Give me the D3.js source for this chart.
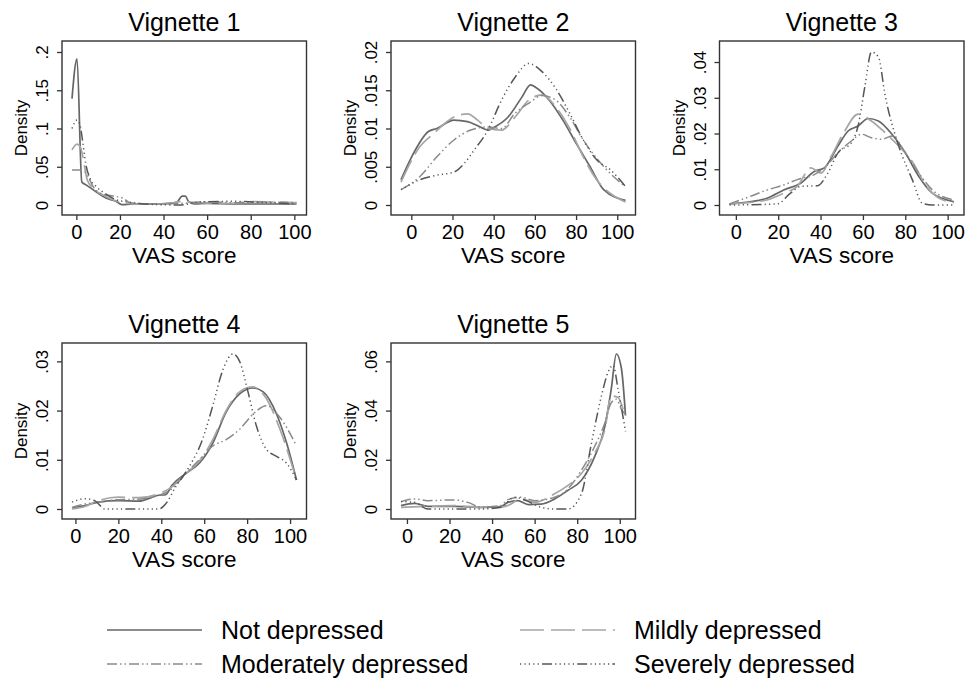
<!DOCTYPE html>
<html>
<head>
<meta charset="utf-8">
<script src="https://cdn.jsdelivr.net/npm/d3@7"></script>
<style>
	body { margin: 0; background: #fff; }
	text { font-family: "Liberation Sans", Arial, Helvetica, sans-serif; fill: #000; }
</style>
</head>
<body>
<div id="chart"></div>
<script>
var w = 974;
var h = 678;

// group names (legend order)
var groups = ["Not depressed", "Mildly depressed", "Moderately depressed", "Severely depressed"];
var panelTitles = ["Vignette 1", "Vignette 2", "Vignette 3", "Vignette 4", "Vignette 5"];
var xTicks = [0, 20, 40, 60, 80, 100];

// y ticks per vignette
var yTicks1 = [0, .05, .1, .15, .2];
var yTicks2 = [0, .005, .01, .015, .02];
var yTicks3 = [0, .01, .02, .03, .04];
var yTicks4 = [0, .01, .02, .03];
var yTicks5 = [0, .02, .04, .06];

// density curves [VAS score, density]
var v1Not = [[-2,.139],[0.3,.191],[2.5,.030],[4.6,.026],[9.2,.017],[13.8,.0087],[18.5,.0043],[20.8,.0005],[26,.0013],[38,.0013],[41.5,.002],[46,.0035],[48.5,.0115],[50,.0117],[51.5,.0043],[54,.0013],[60,.002],[72,.0013],[88,.0013],[101,.0013]];
var v1Mild = [[-2,.072],[0.3,.0796],[1.8,.076],[3,.063],[5,.0326],[7.7,.0217],[12.3,.013],[17,.0065],[21.5,.003],[29,.0013],[41.5,.0013],[47.7,.0043],[57,.003],[69,.002],[81.5,.0043],[101,.003]];
var v1Mod = [[-2,.0457],[1.5,.0457],[3.8,.0435],[5.4,.037],[7.7,.024],[12.3,.0139],[17,.0117],[21.5,.0087],[24.6,.003],[34,.0013],[47.7,.002],[60,.0043],[72.3,.003],[84.6,.0039],[101,.003]];
var v1Sev = [[-2,.1],[0.3,.111],[1.8,.103],[2.8,.085],[4.3,.054],[6.2,.035],[9.2,.024],[13.8,.0139],[18.5,.0065],[23,.0043],[29,.002],[38.5,.0004],[47,0],[57,.0039],[72,.0048],[88,.003],[101,.0013]];

var v2Not = [[-5,.0033],[0,.0062],[8.3,.0096],[12.4,.0100],[20.7,.0111],[27.3,.0109],[32,.0104],[37.2,.0098],[40.5,.0102],[47,.0115],[53.7,.0141],[57.9,.0157],[60.3,.0154],[67,.0137],[73.6,.0111],[80.2,.008],[86.8,.005],[93.4,.002],[104,.0006]];
var v2Mild = [[-5,.003],[4.1,.0076],[10.7,.0093],[20.7,.0115],[27.3,.0119],[32.2,.0111],[37.2,.0100],[43.8,.0098],[50.4,.0115],[57,.0137],[63.6,.0144],[70.2,.0128],[76.9,.0100],[83.5,.0063],[90,.0033],[96.7,.0015],[104,.0004]];
var v2Mod = [[-5,.002],[4.1,.0037],[12.4,.0063],[20.7,.0085],[28.9,.0098],[37.2,.0102],[43.8,.0100],[50.4,.012],[57,.0133],[63.6,.0143],[70.2,.0137],[76.9,.0115],[83.5,.0085],[90,.0061],[96.7,.0041],[104,.0024]];
var v2Sev = [[-5,.002],[4.1,.0033],[12.4,.0039],[20.7,.0043],[25.6,.0054],[30.6,.0072],[37.2,.0098],[43.8,.0137],[50.4,.0167],[57,.0185],[63.6,.0174],[70.2,.0152],[76.9,.012],[83.5,.0085],[90,.0059],[96.7,.0046],[104,.0024]];

var v3Not = [[-3,.0003],[6.7,.0009],[14.7,.0019],[22.6,.0042],[30.6,.0061],[37,.0094],[41.8,.0104],[48.2,.0165],[53,.0207],[57.7,.0221],[62.5,.0242],[67.3,.0235],[73.7,.0198],[80,.0146],[86.4,.008],[92.8,.0033],[103,.0009]];
var v3Mild = [[-3,.0003],[6.7,.0007],[14.7,.0014],[22.6,.0033],[29,.0052],[35.4,.0104],[40.2,.0089],[45,.0136],[51.4,.0207],[57.7,.0254],[64,.0235],[70.5,.0202],[76.9,.0165],[83.3,.0122],[89.6,.0056],[96,.0019],[103,.0007]];
var v3Mod = [[-3,.0003],[6.7,.0024],[14.7,.0042],[22.6,.0056],[29,.0071],[37,.0085],[41.8,.0104],[48.2,.0146],[54.5,.0179],[59.3,.0198],[64,.0188],[68.9,.0184],[73.7,.0193],[80,.0146],[86.4,.0089],[92.8,.0042],[103,.0014]];
var v3Sev = [[-3,0],[19.5,.0003],[25.8,.0033],[30.6,.0052],[38.6,.0054],[43.4,.0089],[48.2,.0146],[54.5,.0174],[57.7,.0221],[61,.0334],[64,.0428],[67.3,.0414],[70.5,.0306],[76.9,.0165],[83.3,.0071],[88,.0005],[92.8,0],[103,0]];

var v4Not = [[-1.6,.0002],[4.4,.0007],[10.7,.0014],[20,.0017],[29.5,.0016],[38.9,.0028],[42,.0029],[45,.0048],[51.4,.0072],[57.7,.0093],[64,.0134],[70.2,.0197],[76.5,.0234],[82.8,.0246],[87.5,.0238],[93.7,.0193],[98.4,.0134],[103,.0059]];
var v4Mild = [[-1.6,0],[4.4,.0005],[10.7,.0017],[20,.0024],[29.5,.0023],[38.9,.0031],[45,.0045],[51.4,.0072],[57.7,.0097],[64,.0141],[70.2,.020],[76.5,.0238],[82.8,.0248],[89,.0224],[95.3,.0162],[103,.0059]];
var v4Mod = [[-1.6,.0003],[4.4,.001],[10.7,.0014],[20,.0019],[29.5,.002],[38.9,.0028],[45,.0041],[51.4,.0072],[57.7,.010],[64,.0128],[70.2,.0141],[76.5,.0162],[82.8,.0193],[89,.021],[95.3,.0186],[103,.0128]];
var v4Sev = [[-1.6,.0014],[4.4,.0021],[9,.0017],[13.8,0],[26.3,0],[38.9,0],[42,.001],[46.7,.0045],[53,.0086],[59.2,.0141],[64,.021],[68.7,.0283],[73.4,.0315],[76.5,.0300],[80.4,.0238],[84.3,.0169],[89,.0121],[93.7,.0107],[98.4,.0093],[103,.0059]];

var v5Not = [[-2.8,.0014],[3.5,.0023],[9.7,.0011],[22,.0011],[35,.0007],[44,.001],[47.4,.0027],[52,.0034],[57,.0018],[63,.002],[69.4,.0041],[75.7,.0076],[82,.0117],[88.2,.0213],[93,.0336],[96,.0487],[98.4,.063],[100.8,.057],[102.7,.038]];
var v5Mild = [[-2.8,.0007],[9.7,.0011],[22,.0014],[35,.0007],[44,.0007],[47.4,.0014],[53.7,.0041],[60,.0027],[69.4,.0062],[75.7,.0096],[82,.0144],[88.2,.0227],[93,.0323],[96,.046],[99.2,.0453],[101.6,.0405]];
var v5Mod = [[-2.8,.003],[3.5,.0041],[9.7,.0034],[22,.0037],[28.6,.0027],[35,.0007],[44,.0014],[47.4,.0038],[53.7,.0048],[60,.0034],[69.4,.0048],[75.7,.0082],[82,.0158],[88.2,.0254],[93,.035],[96,.0432],[98.4,.0446],[100.8,.0405],[102.7,.0384]];
var v5Sev = [[-2.8,.003],[3.5,.0027],[9.7,0],[22,0],[35,0],[44,.0007],[50.5,.0048],[56,.0034],[63,.0007],[69,0],[75.7,0],[82,.0062],[86.7,.0268],[91.4,.046],[94.5,.0556],[96.9,.0584],[99.2,.0487],[102.7,.0316]];

var panels = [
	{ title: panelTitles[0], yTicks: yTicks1, series: [v1Not, v1Mild, v1Mod, v1Sev] },
	{ title: panelTitles[1], yTicks: yTicks2, series: [v2Not, v2Mild, v2Mod, v2Sev] },
	{ title: panelTitles[2], yTicks: yTicks3, series: [v3Not, v3Mild, v3Mod, v3Sev] },
	{ title: panelTitles[3], yTicks: yTicks4, series: [v4Not, v4Mild, v4Mod, v4Sev] },
	{ title: panelTitles[4], yTicks: yTicks5, series: [v5Not, v5Mild, v5Mod, v5Sev] }
];

// line look for each group
var lineStyle = [
	{ color: "#666666", dash: null, width: 1.7 },
	{ color: "#a6a6a6", dash: "24,7", width: 1.7 },
	{ color: "#8a8a8a", dash: "10,3,1.5,3,1.5,3", width: 1.5 },
	{ color: "#555555", dash: "1.2,3.2,1.2,3.2,1.2,3.2,1.2,3.2,1.2,3.2,10,3.2", width: 1.5 }
];

var colLeft = [62, 391, 719.5];
var rowTop = [41, 343];
var frameW = 244.5;
var frameH = [174, 176];
var pad = 10;

var svg;

function fmt(v) {
	if (v === 0) return "0";
	return String(v).replace(/^0/, "");
}

function drawPanel(p, i) {
	var col = i % 3;
	var row = Math.floor(i / 3);
	var left = colLeft[col];
	var top = rowTop[row];
	var fh = frameH[row];

	var allPts = d3.merge(p.series);
	var x = d3.scaleLinear()
		.domain(d3.extent(allPts, (d) => d[0]))
		.range([left + pad, left + frameW - pad]);
	var yMax = Math.max(d3.max(allPts, (d) => d[1]), d3.max(p.yTicks));
	var y = d3.scaleLinear()
		.domain([0, yMax])
		.range([top + fh - pad, top + pad + 1]);

	var g = svg.append("g");

	// curves
	var line = d3.line()
		.x((d) => x(d[0]))
		.y((d) => y(d[1]))
		.curve(d3.curveMonotoneX);

	g.selectAll("path.curve")
		.data(p.series)
		.enter()
		.append("path")
		.attr("class", "curve")
		.attr("d", line)
		.attr("fill", "none")
		.attr("stroke", (d, k) => lineStyle[k].color)
		.attr("stroke-width", (d, k) => lineStyle[k].width)
		.attr("stroke-dasharray", (d, k) => lineStyle[k].dash)
		.attr("stroke-linejoin", "round");

	// frame
	g.append("rect")
		.attr("x", left)
		.attr("y", top)
		.attr("width", frameW)
		.attr("height", fh)
		.attr("fill", "none")
		.attr("stroke", "#333")
		.attr("stroke-width", 1.4);

	// x axis
	var xAxis = g.append("g")
		.attr("transform", "translate(0," + (top + fh) + ")")
		.call(d3.axisBottom(x).tickValues(xTicks).tickSize(5).tickFormat(d3.format("d")));
	xAxis.select(".domain").remove();
	xAxis.selectAll("line").attr("stroke", "#333").attr("stroke-width", 1.3);
	xAxis.selectAll("text")
		.attr("y", 24)
		.attr("dy", null)
		.style("font-size", "20px")
		.style("font-family", "'Liberation Sans', Arial, sans-serif")
		.attr("fill", "#000");

	// y axis
	var yAxis = g.append("g")
		.attr("transform", "translate(" + left + ",0)")
		.call(d3.axisLeft(y).tickValues(p.yTicks).tickSize(5).tickFormat(fmt));
	yAxis.select(".domain").remove();
	yAxis.selectAll("line").attr("stroke", "#333").attr("stroke-width", 1.3);
	yAxis.selectAll("text")
		.attr("x", null)
		.attr("dy", null)
		.attr("text-anchor", "middle")
		.attr("transform", "translate(-14,0) rotate(-90)")
		.style("font-size", "17px")
		.style("font-family", "'Liberation Sans', Arial, sans-serif")
		.attr("fill", "#000");

	// titles
	g.append("text")
		.attr("x", left + frameW / 2)
		.attr("y", top - 10)
		.attr("text-anchor", "middle")
		.style("font-size", "25px")
		.text(p.title);

	g.append("text")
		.attr("x", left + frameW / 2)
		.attr("y", top + fh + 48)
		.attr("text-anchor", "middle")
		.style("font-size", "22.5px")
		.text("VAS score");

	g.append("text")
		.attr("transform", "translate(" + (left - 35) + "," + (top + fh / 2) + ") rotate(-90)")
		.attr("text-anchor", "middle")
		.style("font-size", "17px")
		.text("Density");
}

function drawLegend() {
	var keyX = [107, 520];
	var keyY = [630, 664];
	var leg = svg.append("g");
	var items = leg.selectAll("g")
		.data(groups)
		.enter()
		.append("g")
		.attr("transform", (d, k) => "translate(" + keyX[k % 2] + "," + keyY[Math.floor(k / 2)] + ")");

	items.append("line")
		.attr("x1", 0)
		.attr("x2", 95)
		.attr("stroke", (d, k) => lineStyle[k].color)
		.attr("stroke-width", (d, k) => lineStyle[k].width)
		.attr("stroke-dasharray", (d, k) => lineStyle[k].dash);

	items.append("text")
		.attr("x", 114)
		.attr("y", 8.5)
		.style("font-size", "25px")
		.text((d) => d);
}

function init() {
	svg = d3.select("#chart")
		.append("svg")
		.attr("width", w)
		.attr("height", h);

	panels.forEach(drawPanel);
	drawLegend();
}

window.onload = init();
</script>
</body>
</html>
